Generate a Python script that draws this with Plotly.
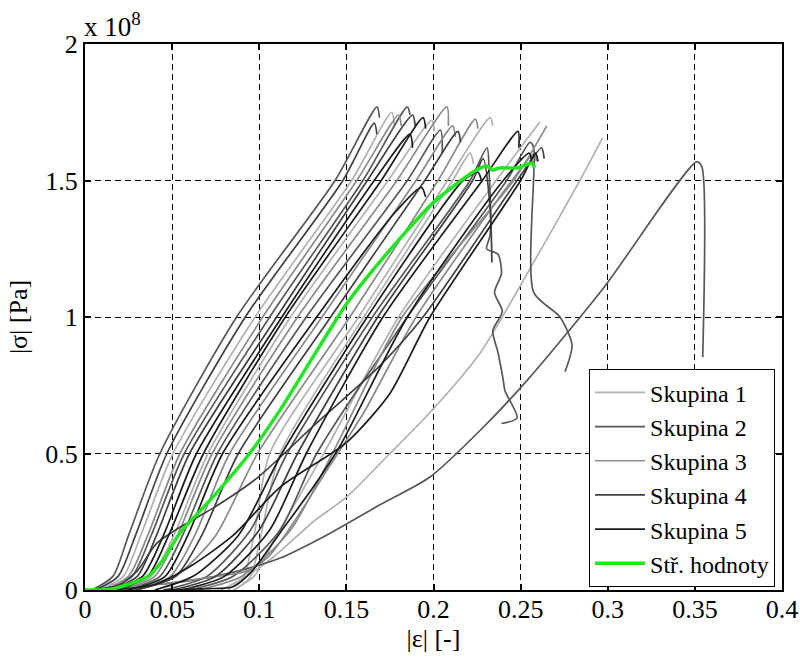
import plotly.graph_objects as go

# strain |eps| [-] and stress |sigma| in units of 1e8 Pa
# ---- Skupina 1 (light gray)
s1_a_eps = [0.008, 0.022, 0.032, 0.0505, 0.0976, 0.153, 0.176, 0.1775]
s1_a_sig = [0, 0.05, 0.2, 0.5, 1.0, 1.5, 1.75, 1.70]
s1_b_eps = [0.019, 0.038, 0.051, 0.0706, 0.118, 0.174, 0.199, 0.2005]
s1_b_sig = [0, 0.05, 0.2, 0.5, 1.0, 1.5, 1.72, 1.68]
s1_c_eps = [0.082, 0.091, 0.097, 0.106, 0.157, 0.208, 0.2325, 0.234]
s1_c_sig = [0, 0.05, 0.2, 0.5, 1.0, 1.5, 1.73, 1.70]
s1_d_eps = [0.086, 0.095, 0.101, 0.112, 0.160, 0.211, 0.221, 0.223]
s1_d_sig = [0, 0.05, 0.2, 0.5, 1.0, 1.5, 1.60, 1.56]
s1_e_eps = [0.085, 0.097, 0.110, 0.137, 0.180, 0.236, 0.261]
s1_e_sig = [0, 0.05, 0.2, 0.5, 1.0, 1.5, 1.714]
s1_f_eps = [0.078, 0.090, 0.108, 0.131, 0.150, 0.175, 0.198, 0.227, 0.2485, 0.284, 0.297]
s1_f_sig = [0, 0.04, 0.12, 0.25, 0.34, 0.5, 0.65, 0.87, 1.10, 1.5, 1.656]

# ---- Skupina 2 (dark gray)
s2_a_eps = [0.004, 0.016, 0.025, 0.043, 0.087, 0.1435, 0.1676, 0.169]
s2_a_sig = [0, 0.05, 0.2, 0.5, 1.0, 1.5, 1.77, 1.73]
s2_b_eps = [0.012, 0.027, 0.038, 0.057, 0.106, 0.1595, 0.185, 0.1865]
s2_b_sig = [0, 0.05, 0.2, 0.5, 1.0, 1.5, 1.77, 1.74]
s2_c_eps = [0.023, 0.043, 0.056, 0.076, 0.127, 0.185, 0.204, 0.205]
s2_c_sig = [0, 0.05, 0.2, 0.5, 1.0, 1.5, 1.685, 1.60]
s2_d_eps = [0.045, 0.070, 0.095, 0.116, 0.165, 0.221, 0.2307, 0.232, 0.2325, 0.2305,
            0.237, 0.239, 0.235, 0.2395, 0.234, 0.237, 0.240, 0.241, 0.248, 0.239]
s2_d_sig = [0, 0.05, 0.22, 0.5, 1.0, 1.5, 1.62, 1.52, 1.30, 1.25,
            1.23, 1.16, 1.09, 1.02, 0.95, 0.87, 0.77, 0.73, 0.63, 0.61]
s2_e_eps = [0.060, 0.085, 0.112, 0.133, 0.185, 0.242, 0.2554, 0.2575, 0.2575, 0.2726, 0.2795, 0.2755]
s2_e_sig = [0, 0.05, 0.22, 0.5, 1.0, 1.5, 1.64, 1.62, 1.09, 1.0, 0.897, 0.80]
s2_f_eps = [0.0, 0.016, 0.0545, 0.083, 0.112, 0.141, 0.169, 0.198, 0.227, 0.255, 0.298, 0.351, 0.354, 0.3545]
s2_f_sig = [0, 0.007, 0.029, 0.062, 0.117, 0.209, 0.311, 0.414, 0.586, 0.777, 1.11, 1.568, 1.55, 0.853]

# ---- Skupina 3 (gray)
s3_a_eps = [0.010, 0.025, 0.036, 0.0545, 0.102, 0.156, 0.180, 0.1815]
s3_a_sig = [0, 0.05, 0.2, 0.5, 1.0, 1.5, 1.74, 1.70]
s3_b_eps = [0.021, 0.040, 0.053, 0.073, 0.122, 0.179, 0.2077, 0.2085]
s3_b_sig = [0, 0.05, 0.2, 0.5, 1.0, 1.5, 1.77, 1.70]
s3_c_eps = [0.027, 0.049, 0.063, 0.083, 0.136, 0.190, 0.211, 0.2125]
s3_c_sig = [0, 0.05, 0.2, 0.5, 1.0, 1.5, 1.70, 1.66]
s3_d_eps = [0.030, 0.052, 0.075, 0.099, 0.152, 0.2026, 0.224, 0.2255]
s3_d_sig = [0, 0.05, 0.2, 0.5, 1.0, 1.5, 1.725, 1.69]
s3_e_eps = [0.065, 0.090, 0.118, 0.142, 0.182, 0.246, 0.265]
s3_e_sig = [0, 0.05, 0.22, 0.5, 1.0, 1.5, 1.70]
s3_f_eps = [0.010, 0.040, 0.070, 0.093, 0.105, 0.120, 0.140, 0.160, 0.190, 0.245, 0.258, 0.259]
s3_f_sig = [0, 0.02, 0.045, 0.07, 0.12, 0.25, 0.45, 0.65, 1.0, 1.5, 1.60, 1.57]

# ---- Skupina 4 (darker gray)
s4_a_eps = [0.006, 0.019, 0.029, 0.047, 0.092, 0.148, 0.166, 0.1675]
s4_a_sig = [0, 0.05, 0.2, 0.5, 1.0, 1.5, 1.71, 1.67]
s4_b_eps = [0.014, 0.030, 0.041, 0.060, 0.110, 0.162, 0.188, 0.1895]
s4_b_sig = [0, 0.05, 0.2, 0.5, 1.0, 1.5, 1.74, 1.70]
s4_c_eps = [0.029, 0.052, 0.067, 0.088, 0.141, 0.195, 0.214, 0.2155]
s4_c_sig = [0, 0.05, 0.2, 0.5, 1.0, 1.5, 1.68, 1.64]
s4_d_eps = [0.050, 0.075, 0.100, 0.122, 0.168, 0.2225, 0.2285, 0.2325, 0.2335]
s4_d_sig = [0, 0.05, 0.22, 0.5, 1.0, 1.5, 1.58, 1.40, 1.20]
s4_e_eps = [0.005, 0.020, 0.030, 0.041, 0.0545, 0.0735, 0.0987, 0.131, 0.169, 0.194, 0.248, 0.262, 0.2635]
s4_e_sig = [0, 0.02, 0.07, 0.17, 0.23, 0.30, 0.41, 0.60, 0.82, 1.0, 1.5, 1.62, 1.58]

# ---- Skupina 5 (near black)
s5_a_eps = [0.016, 0.033, 0.045, 0.064, 0.113, 0.166, 0.1865, 0.188]
s5_a_sig = [0, 0.05, 0.2, 0.5, 1.0, 1.5, 1.67, 1.62]
s5_b_eps = [0.017, 0.036, 0.048, 0.068, 0.115, 0.170, 0.194, 0.1955]
s5_b_sig = [0, 0.05, 0.2, 0.5, 1.0, 1.5, 1.73, 1.69]
s5_c_eps = [0.025, 0.046, 0.059, 0.079, 0.133, 0.1775, 0.193, 0.1955]
s5_c_sig = [0, 0.05, 0.2, 0.5, 1.0, 1.38, 1.475, 1.44]
s5_d_eps = [0.040, 0.062, 0.088, 0.113, 0.162, 0.217, 0.2255, 0.2275]
s5_d_sig = [0, 0.05, 0.2, 0.5, 1.0, 1.5, 1.53, 1.50]
s5_e_eps = [0.055, 0.080, 0.106, 0.127, 0.171, 0.228, 0.2485, 0.249]
s5_e_sig = [0, 0.05, 0.22, 0.5, 1.0, 1.5, 1.68, 1.62]
s5_f_eps = [0.045, 0.070, 0.085, 0.096, 0.112, 0.131, 0.146, 0.185, 0.240, 0.255, 0.2565]
s5_f_sig = [0, 0.005, 0.012, 0.07, 0.21, 0.377, 0.524, 1.0, 1.5, 1.60, 1.56]
s5_g_eps = [0.015, 0.040, 0.060, 0.085, 0.112, 0.150, 0.175, 0.198, 0.250, 0.2585, 0.260]
s5_g_sig = [0, 0.02, 0.085, 0.2, 0.377, 0.54, 0.72, 1.0, 1.5, 1.60, 1.57]

# ---- mean curve (Stř. hodnoty)
mean_eps = [0.0, 0.016, 0.0356, 0.0448, 0.0545, 0.0735, 0.0947, 0.1119, 0.1308, 0.1504,
            0.171, 0.1997, 0.2227, 0.2307, 0.234, 0.238, 0.248, 0.2565, 0.258]
mean_sig = [0, 0.004, 0.048, 0.11, 0.209, 0.341, 0.502, 0.659, 0.853, 1.051,
            1.216, 1.418, 1.531, 1.553, 1.538, 1.546, 1.546, 1.564, 1.546]

groups = [
    ("Skupina 1", "#b2b2b2", [(s1_a_eps, s1_a_sig), (s1_b_eps, s1_b_sig), (s1_c_eps, s1_c_sig),
                              (s1_d_eps, s1_d_sig), (s1_e_eps, s1_e_sig), (s1_f_eps, s1_f_sig)]),
    ("Skupina 2", "#585858", [(s2_a_eps, s2_a_sig), (s2_b_eps, s2_b_sig), (s2_c_eps, s2_c_sig),
                              (s2_d_eps, s2_d_sig), (s2_e_eps, s2_e_sig), (s2_f_eps, s2_f_sig)]),
    ("Skupina 3", "#8a8a8a", [(s3_a_eps, s3_a_sig), (s3_b_eps, s3_b_sig), (s3_c_eps, s3_c_sig),
                              (s3_d_eps, s3_d_sig), (s3_e_eps, s3_e_sig), (s3_f_eps, s3_f_sig)]),
    ("Skupina 4", "#404040", [(s4_a_eps, s4_a_sig), (s4_b_eps, s4_b_sig), (s4_c_eps, s4_c_sig),
                              (s4_d_eps, s4_d_sig), (s4_e_eps, s4_e_sig)]),
    ("Skupina 5", "#1c1c1c", [(s5_a_eps, s5_a_sig), (s5_b_eps, s5_b_sig), (s5_c_eps, s5_c_sig),
                              (s5_d_eps, s5_d_sig), (s5_e_eps, s5_e_sig), (s5_f_eps, s5_f_sig),
                              (s5_g_eps, s5_g_sig)]),
]

x_ticks = [0, 0.05, 0.1, 0.15, 0.2, 0.25, 0.3, 0.35, 0.4]
x_tick_text = ["0", "0.05", "0.1", "0.15", "0.2", "0.25", "0.3", "0.35", "0.4"]
y_ticks = [0, 0.5, 1, 1.5, 2]
y_tick_text = ["0", "0.5", "1", "1.5", "2"]

FONT = "'Times New Roman', 'Liberation Serif', 'DejaVu Serif', serif"

fig = go.Figure()
for rank, (name, color, curves) in enumerate(groups, start=1):
    for i, (ex, sy) in enumerate(curves):
        fig.add_trace(go.Scatter(
            x=ex, y=sy, mode="lines", name=name, legendgroup=name,
            showlegend=(i == 0), legendrank=rank,
            line=dict(color=color, width=1.7, shape="spline", smoothing=0.7),
            hoverinfo="skip"))

fig.add_trace(go.Scatter(
    x=mean_eps, y=mean_sig, mode="lines", name="Stř. hodnoty", legendrank=6,
    line=dict(color="#22e622", width=3.5, shape="spline", smoothing=0.6),
    hoverinfo="skip"))

axis_common = dict(
    showline=True, linecolor="black", linewidth=2, mirror="ticks",
    ticks="inside", ticklen=6, tickwidth=2, tickcolor="black",
    showgrid=True, gridcolor="black", gridwidth=1, griddash="6px,4px",
    zeroline=False, automargin=False,
    tickfont=dict(family=FONT, size=26, color="black"),
)

fig.update_xaxes(range=[0, 0.4], tickvals=x_ticks, ticktext=x_tick_text,
                 ticklabelstandoff=-5,
                 title=dict(text="|ε| [-]", font=dict(family=FONT, size=26, color="black"), standoff=0),
                 **axis_common)
fig.update_yaxes(range=[0, 2], tickvals=y_ticks, ticktext=y_tick_text,
                 title=dict(text="|σ| [Pa]", font=dict(family=FONT, size=26, color="black"), standoff=10),
                 **axis_common)

fig.add_annotation(text="x 10<sup>8</sup>", xref="paper", yref="paper", x=0, y=1,
                   xanchor="left", yanchor="bottom", showarrow=False, yshift=0, xshift=-3,
                   font=dict(family=FONT, size=27, color="black"))

fig.update_layout(
    width=800, height=661,
    margin=dict(l=85, r=18, t=44, b=71),
    paper_bgcolor="white", plot_bgcolor="white",
    font=dict(family=FONT, color="black"),
    legend=dict(x=0.99, y=0.005, xanchor="right", yanchor="bottom",
                bgcolor="white", bordercolor="black", borderwidth=1,
                font=dict(family=FONT, size=24, color="black"),
                tracegroupgap=0, itemwidth=50),
    showlegend=True,
)

fig.write_html("out.html")
